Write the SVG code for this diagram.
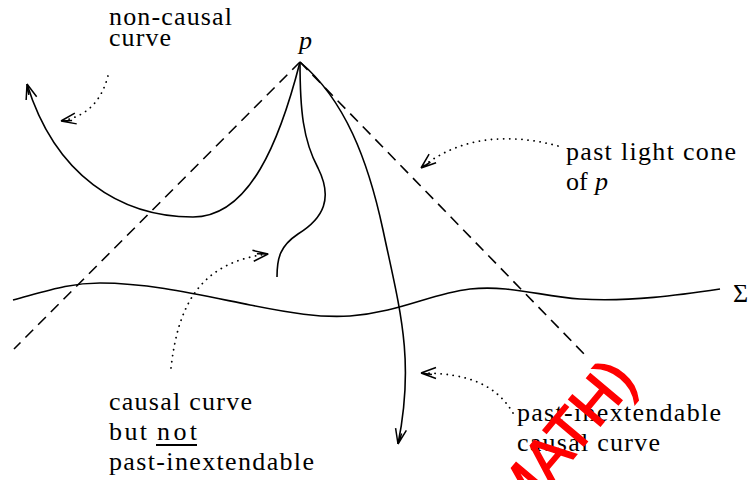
<svg xmlns="http://www.w3.org/2000/svg" width="754" height="480" viewBox="0 0 754 480">
<defs>
<style>
.t{font-family:"Liberation Serif","DejaVu Serif","Times New Roman",serif;font-size:26px;fill:#000}
.i{font-style:italic}
.w{font-family:"Liberation Sans",Arial,sans-serif;font-size:60px;fill:#f00;stroke:#f00;stroke-width:1.5}
.c{fill:none;stroke:#000;stroke-width:1.6}
.d{fill:none;stroke:#000;stroke-width:1.6;stroke-dasharray:11 7}
.o{fill:none;stroke:#000;stroke-width:1.8;stroke-dasharray:0.1 6;stroke-linecap:round}
</style>
<marker id="ah" viewBox="-16 -8 18 16" refX="0" refY="0" markerWidth="18" markerHeight="16" markerUnits="userSpaceOnUse" orient="auto">
<path d="M0,0 L-15,-5.5 M0,0 L-15,5.5 M0,0 L-11,-1.5" fill="none" stroke="#000" stroke-width="1.5"/>
</marker>
</defs>
<rect width="754" height="480" fill="#fff"/>
<g id="connectors">
<path id="cone-left" class="d" d="M300,62 L14,349"/>
<path id="cone-right" class="d" d="M300,62 L588,358"/>
<path id="sigma" class="c" d="M13,300 C50,290 70,283 100,283 C150,283 200,295 250,305 C290,313 320,318 350,316 C400,312 430,294 470,289 C510,285 540,296 580,299 C630,302 680,295 720,289"/>
<path id="noncausal" class="c" marker-end="url(#ah)" d="M300,62 C280,140 250,217 193,217 C120,217 55,175 27,84"/>
<path id="causal-ext" class="c" d="M300,62 C300,110 303,140 318,168 C333,198 324,218 298,234 C280,246 277,258 277,277"/>
<path id="inext" class="c" marker-end="url(#ah)" d="M300,62 C345,100 368,160 383,230 C400,310 415,360 398,444"/>
<path id="dot-noncausal" class="o" marker-end="url(#ah)" d="M108,76 C102,98 90,116 61,121"/>
<path id="dot-cone" class="o" marker-end="url(#ah)" d="M558,146 C510,133 460,136 421,168"/>
<path id="dot-causal" class="o" marker-end="url(#ah)" d="M171,368 C178,305 200,262 268,254"/>
<path id="dot-inext" class="o" marker-end="url(#ah)" d="M513,413 C497,386 470,373 421,373"/>
</g>
<g id="label-p"><text class="t i" x="299" y="49">p</text></g>
<g id="label-sigma"><text class="t" x="733" y="302" font-size="27">Σ</text></g>
<g id="label-noncausal">
<text class="t" x="109" y="25" textLength="123" lengthAdjust="spacing">non-causal</text>
<text class="t" x="109" y="46" textLength="62" lengthAdjust="spacing">curve</text>
</g>
<g id="label-cone">
<text class="t" x="566" y="160" textLength="170" lengthAdjust="spacing">past light cone</text>
<text class="t" x="566" y="190">of</text>
<text class="t i" x="595" y="190">p</text>
</g>
<g id="label-causal">
<text class="t" x="109" y="410" textLength="143" lengthAdjust="spacing">causal curve</text>
<text class="t" x="109" y="440" textLength="38" lengthAdjust="spacing">but</text>
<text class="t" x="157" y="440" textLength="40" lengthAdjust="spacing">not</text>
<line x1="156" y1="445" x2="197" y2="445" stroke="#000" stroke-width="1.8"/>
<text class="t" x="109" y="470" textLength="205" lengthAdjust="spacing">past-inextendable</text>
</g>
<g id="label-inext">
<text class="t" x="517" y="421" textLength="204" lengthAdjust="spacing">past-inextendable</text>
<text class="t" x="517" y="451" textLength="143" lengthAdjust="spacing">causal curve</text>
</g>
<g id="watermark">
<text class="w" x="0" y="0" transform="translate(572,460) rotate(-50)" text-anchor="middle">(MATH)</text>
</g>
</svg>
